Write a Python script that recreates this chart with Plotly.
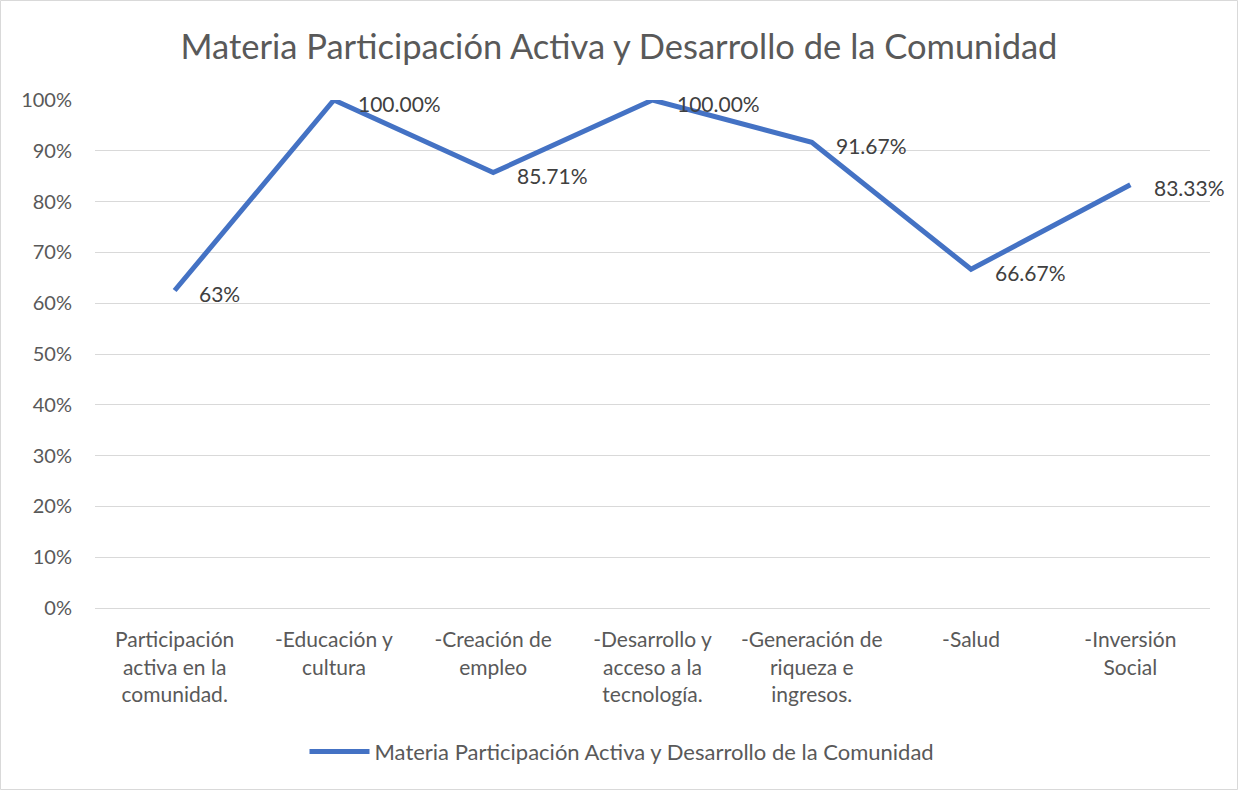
import plotly.graph_objects as go

categories = [
    "Participación<br>activa en la<br>comunidad.",
    "-Educación y<br>cultura",
    "-Creación de<br>empleo",
    "-Desarrollo y<br>acceso a la<br>tecnología.",
    "-Generación de<br>riqueza e<br>ingresos.",
    "-Salud",
    "-Inversión<br>Social",
]
values = [0.625, 1.0, 0.8571, 1.0, 0.9167, 0.6667, 0.8333]
value_labels = ["63%", "100.00%", "85.71%", "100.00%", "91.67%", "66.67%", "83.33%"]

series_name = "Materia Participación Activa y Desarrollo de la Comunidad"
font_family = "Lato, Open Sans, sans-serif"
gray = "#595959"

fig = go.Figure()
fig.add_trace(go.Scatter(
    x=categories,
    y=values,
    mode="lines",
    name=series_name,
    line=dict(color="#4472C4", width=5),
    cliponaxis=False,
))

# data labels to the right of each point
for cat, val, lab in zip(categories, values, value_labels):
    fig.add_annotation(
        x=cat, y=val, text=lab, showarrow=False,
        xanchor="left", yanchor="middle", xshift=22, yshift=-3,
        font=dict(size=21, color="#404040", family=font_family),
    )

fig.update_layout(
    width=1238,
    height=790,
    paper_bgcolor="white",
    plot_bgcolor="white",
    margin=dict(l=95, r=28, t=100, b=182),
    font=dict(family=font_family, color=gray, size=20),
    title=dict(
        text=series_name,
        x=0.5,
        xanchor="center",
        y=1 - 47 / 790,
        yanchor="middle",
        font=dict(size=34.5, color=gray, family=font_family),
    ),
    showlegend=True,
    legend=dict(
        orientation="h",
        x=(622 - 95) / 1115,
        xanchor="center",
        y=-0.283,
        yanchor="middle",
        font=dict(size=22, color=gray),
        itemwidth=60,
    ),
)

fig.update_xaxes(
    type="category",
    range=[-0.5, 6.5],
    showgrid=False,
    showline=True,
    linecolor="#d9d9d9",
    linewidth=1,
    ticks="",
    tickfont=dict(size=21, color=gray),
    ticklabelstandoff=13,
)
fig.update_yaxes(
    range=[0, 1],
    dtick=0.1,
    tickformat=".0%",
    showgrid=True,
    gridcolor="#d9d9d9",
    gridwidth=1,
    zeroline=False,
    showline=False,
    tickfont=dict(size=20, color=gray),
    ticklabelstandoff=22,
)

# thin outer border of the chart
fig.add_shape(
    type="rect", xref="paper", yref="paper",
    x0=-94.5 / 1115, x1=1 + 27.5 / 1115, y0=-181.5 / 508, y1=1 + 99.5 / 508,
    line=dict(color="#d9d9d9", width=1),
)

fig.write_html(
    "out.html",
    config={"displayModeBar": False},
    post_script="document.body.style.margin='0';",
)
